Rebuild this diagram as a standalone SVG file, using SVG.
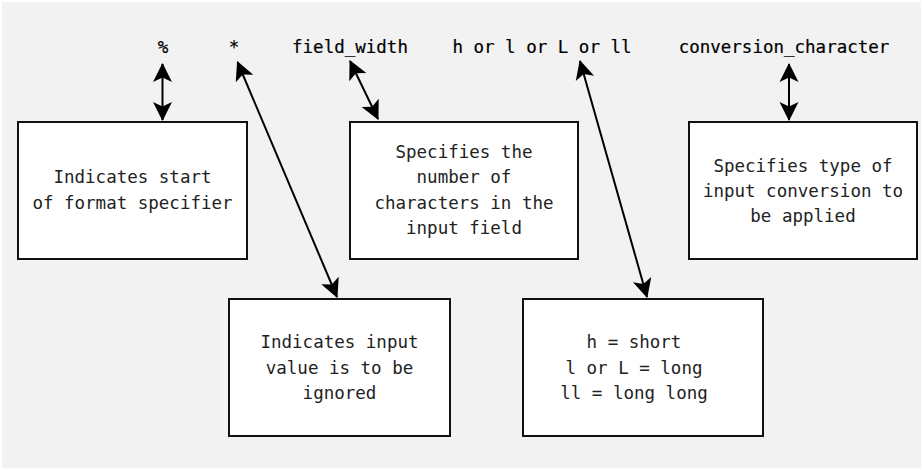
<svg xmlns="http://www.w3.org/2000/svg" width="923" height="470" viewBox="0 0 923 470">
<style>
.bg{fill:#f2f2f2}
.box{fill:#fff;stroke:#111;stroke-width:2}
.lbl{font-family:"DejaVu Sans Mono","Liberation Mono",monospace;font-size:17.5px;fill:#000;stroke:#000;stroke-width:0.2;text-anchor:middle}
.txt{font-family:"DejaVu Sans Mono","Liberation Mono",monospace;font-size:17.5px;fill:#222;text-anchor:middle}
.con{stroke:#000;stroke-width:2;fill:none;marker-start:url(#ah);marker-end:url(#ah)}
</style>
<defs>
<marker id="ah" markerUnits="userSpaceOnUse" markerWidth="24" markerHeight="24" viewBox="-21 -12 24 24" refX="0" refY="0" orient="auto-start-reverse">
<path d="M1,0 L-18,-9.5 L-13.5,0 L-18,9.5 Z" fill="#000"/>
</marker>
</defs>
<rect class="bg" x="2" y="2" width="919" height="466"/>
<g id="labels">
<text class="lbl" x="163" y="53">%</text>
<text class="lbl" x="234" y="53">*</text>
<text class="lbl" x="350" y="53">field_width</text>
<text class="lbl" x="542" y="53">h or l or L or ll</text>
<text class="lbl" x="784" y="53">conversion_character</text>
</g>
<g id="connectors">
<line class="con" x1="162.5" y1="64" x2="162.5" y2="120"/>
<line class="con" x1="237.5" y1="62" x2="337" y2="297"/>
<line class="con" x1="350" y1="61" x2="378" y2="119"/>
<line class="con" x1="580" y1="61" x2="647" y2="297"/>
<line class="con" x1="789" y1="64" x2="789" y2="120"/>
</g>
<g id="n1">
<rect class="box" x="18" y="122" width="229" height="137"/>
<text class="txt" x="132.5" y="183">Indicates start</text>
<text class="txt" x="132.5" y="209">of format specifier</text>
</g>
<g id="n2">
<rect class="box" x="350" y="122" width="228" height="137"/>
<text class="txt" x="464" y="158">Specifies the</text>
<text class="txt" x="464" y="183">number of</text>
<text class="txt" x="464" y="209">characters in the</text>
<text class="txt" x="464" y="234">input field</text>
</g>
<g id="n3">
<rect class="box" x="689" y="122" width="228" height="137"/>
<text class="txt" x="803" y="172">Specifies type of</text>
<text class="txt" x="803" y="197">input conversion to</text>
<text class="txt" x="803" y="222">be applied</text>
</g>
<g id="n4">
<rect class="box" x="229" y="299" width="221" height="137"/>
<text class="txt" x="339.5" y="348">Indicates input</text>
<text class="txt" x="339.5" y="374">value is to be</text>
<text class="txt" x="339.5" y="399">ignored</text>
</g>
<g id="n5">
<rect class="box" x="523" y="299" width="240" height="137"/>
<text class="txt" x="634" y="348">h = short</text>
<text class="txt" x="634" y="374">l or L = long</text>
<text class="txt" x="634" y="399">ll = long long</text>
</g>
</svg>
